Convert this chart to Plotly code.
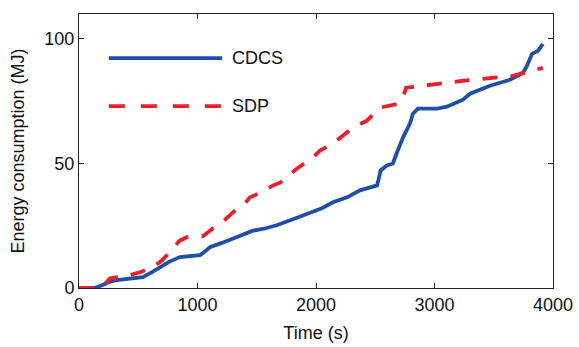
import plotly.graph_objects as go

cdcs_t = [0, 130, 200, 260, 320, 420, 540, 620, 683, 760, 852, 950, 1021, 1060, 1105, 1200, 1300, 1380, 1468, 1560, 1668, 1800, 1949, 2050, 2143, 2262, 2371, 2430, 2515, 2530, 2545, 2599, 2649, 2683, 2734, 2793, 2818, 2860, 3021, 3105, 3240, 3300, 3468, 3637, 3747, 3780, 3823, 3873, 3915]
cdcs_e = [0, 0, 1.2, 2.5, 3.2, 3.8, 4.4, 6.5, 8.4, 10.5, 12.4, 12.8, 13.2, 14.5, 16.4, 18, 20, 21.5, 23, 23.8, 25.2, 27.5, 30.4, 32, 34.4, 36.4, 39.2, 40, 41.2, 44, 47.2, 49.2, 50, 54.4, 60.4, 66, 70, 72, 72, 72.8, 75.6, 78, 81.2, 83.6, 86.4, 89.2, 94, 95.2, 98]

sdp_t = [0, 180, 236, 262, 430, 527, 627, 700, 793, 850, 911, 1046, 1131, 1200, 1300, 1380, 1443, 1540, 1637, 1700, 1840, 1975, 2034, 2143, 2312, 2430, 2540, 2624, 2700, 2734, 2760, 2903, 3240, 3662, 3915]
sdp_e = [0, 0, 2.5, 3.9, 5.2, 6.5, 8.5, 11, 16, 19, 20.4, 20.8, 24, 26, 30.4, 33, 36.4, 38.5, 41.2, 42.4, 48, 52.4, 55.2, 58, 64.4, 67.2, 72.4, 73.2, 74, 76.4, 80.4, 81.2, 83.2, 85.2, 88.4]

x_ticks = [0, 1000, 2000, 3000, 4000]
y_ticks = [0, 50, 100]

BLUE = "#1f4fa6"
RED = "#e8202a"
DASH = "15px,13px"
FONT = "Liberation Sans, Arial, sans-serif"
FS = 18
LW = 3.8

fig = go.Figure()
fig.add_trace(go.Scatter(x=cdcs_t, y=cdcs_e, mode="lines", name="CDCS",
                         line=dict(color=BLUE, width=LW), showlegend=False))
fig.add_trace(go.Scatter(x=sdp_t, y=sdp_e, mode="lines", name="SDP",
                         line=dict(color=RED, width=LW, dash=DASH), showlegend=False))

# legend drawn manually (long MATLAB-style samples)
fig.add_shape(type="line", xref="paper", yref="paper", x0=0.063, x1=0.302, y0=0.839, y1=0.839,
              line=dict(color=BLUE, width=LW))
fig.add_shape(type="line", xref="paper", yref="paper", x0=0.063, x1=0.302, y0=0.664, y1=0.664,
              line=dict(color=RED, width=LW, dash="16px,16px"))
fig.add_annotation(text="CDCS", xref="paper", yref="paper", x=0.318, y=0.839, xanchor="left",
                   yanchor="middle", showarrow=False, font=dict(size=FS, color="#111", family=FONT))
fig.add_annotation(text="SDP", xref="paper", yref="paper", x=0.318, y=0.664, xanchor="left",
                   yanchor="middle", showarrow=False, font=dict(size=FS, color="#111", family=FONT))

axis_common = dict(showgrid=False, zeroline=False, showline=True, linecolor="#222", linewidth=1,
                   mirror="ticks", ticks="inside", ticklen=5, tickcolor="#222", automargin=False,
                   tickfont=dict(size=FS, color="#111", family=FONT))

fig.update_xaxes(range=[0, 4000], tickvals=x_ticks, ticktext=[str(v) for v in x_ticks],
                 title=dict(text="Time (s)", font=dict(size=FS, color="#111", family=FONT), standoff=12),
                 **axis_common)
fig.update_yaxes(range=[0, 110], tickvals=y_ticks, ticktext=[str(v) for v in y_ticks],
                 title=dict(text="Energy consumption (MJ)", font=dict(size=FS, color="#111", family=FONT), standoff=15),
                 **axis_common)

fig.update_layout(width=579, height=347, margin=dict(l=79, r=26, t=14, b=59),
                  plot_bgcolor="white", paper_bgcolor="white", font=dict(family=FONT))

fig.write_html("out.html")
